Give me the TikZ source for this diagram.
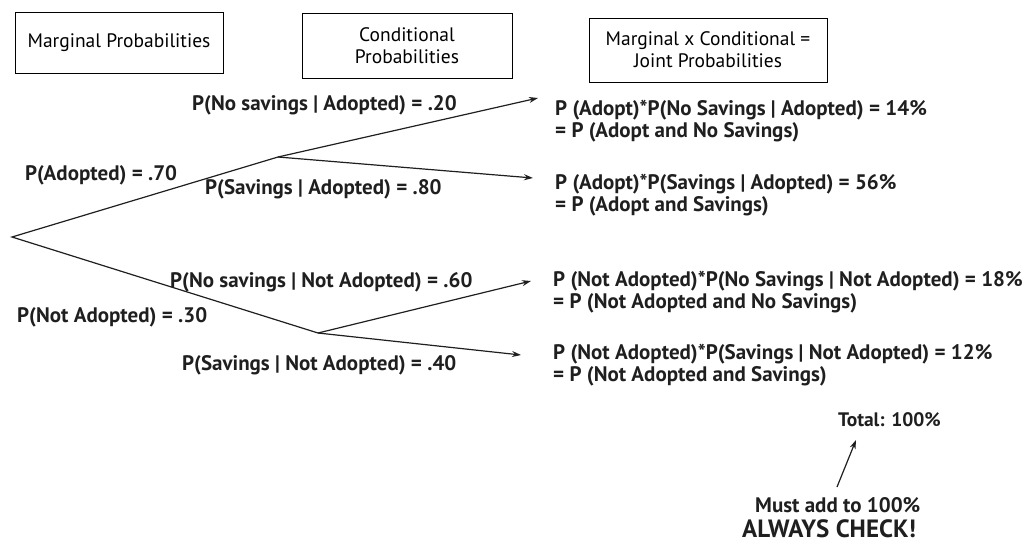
\documentclass[tikz,border=0pt]{standalone}
\usepackage{fontspec}
\setmainfont{PT Sans}
\usetikzlibrary{arrows.meta}
\begin{document}
\begin{tikzpicture}[x=1pt,y=-1pt,
  hdr/.style={draw, line width=1pt, minimum height=0pt, align=center, font=\fontsize{19.5}{22}\selectfont, inner sep=0pt},
  lbl/.style={anchor=west, inner sep=0pt, font=\bfseries\fontsize{21}{23}\selectfont, text=black!88},
  res/.style={anchor=west, inner sep=0pt, align=left, font=\bfseries\fontsize{21}{22.5}\selectfont, text=black!88},
  branch/.style={line width=1.2pt, black!88},
  arr/.style={branch, -{Stealth[length=9pt,width=6pt]}}]
\useasboundingbox (0,0) rectangle (1032,544);
% header boxes
\node[hdr, minimum width=208pt, minimum height=61pt] (hm) at (119,42.5) {Marginal Probabilities};
\node[hdr, minimum width=210pt, minimum height=65pt] (hc) at (407,45.5) {Conditional\\Probabilities};
\node[hdr, minimum width=238pt, minimum height=64pt] (hj) at (708,50) {Marginal x Conditional =\\Joint Probabilities};
% tree points
\coordinate (root) at (12,237);
\coordinate (A) at (278,157);
\coordinate (N) at (318,333);
\coordinate (e1) at (538,98);
\coordinate (e2) at (533,178);
\coordinate (e3) at (531,281);
\coordinate (e4) at (521,355);
\draw[branch] (A) -- (root) -- (N);
\draw[arr] (A) -- (e1);
\draw[arr] (A) -- (e2);
\draw[arr] (N) -- (e3);
\draw[arr] (N) -- (e4);
% branch labels
\node[lbl] (l1) at (192,105) {P(No savings | Adopted) = .20};
\node[lbl] (l2) at (25,175) {P(Adopted) = .70};
\node[lbl] (l3) at (205,189) {P(Savings | Adopted) = .80};
\node[lbl] (l4) at (170,282) {P(No savings | Not Adopted) = .60};
\node[lbl] (l5) at (17,317) {P(Not Adopted) = .30};
\node[lbl] (l6) at (182,365) {P(Savings | Not Adopted) = .40};
% results
\node[res] (r1) at (555,121) {P (Adopt)*P(No Savings | Adopted) = 14\%\\= P (Adopt and No Savings)};
\node[res] (r2) at (555,195) {P (Adopt)*P(Savings | Adopted) = 56\%\\= P (Adopt and Savings)};
\node[res] (r3) at (553,292) {P (Not Adopted)*P(No Savings | Not Adopted) = 18\%\\= P (Not Adopted and No Savings)};
\node[res] (r4) at (553,365) {P (Not Adopted)*P(Savings | Not Adopted) = 12\%\\= P (Not Adopted and Savings)};
\node[anchor=west, inner sep=0pt, font=\bfseries\fontsize{19.5}{22}\selectfont, text=black!88] (tot) at (838,420) {Total: 100\%};
\node[lbl] (must) at (755,505) {Must add to 100\%};
\node[anchor=west, inner sep=0pt, font=\bfseries\fontsize{25}{28}\selectfont, text=black!88] (chk) at (742,529) {ALWAYS CHECK!};
\coordinate (ms) at (837,487);
\draw[arr] (ms) -- (856,440) coordinate (mt);
\end{tikzpicture}
\end{document}
